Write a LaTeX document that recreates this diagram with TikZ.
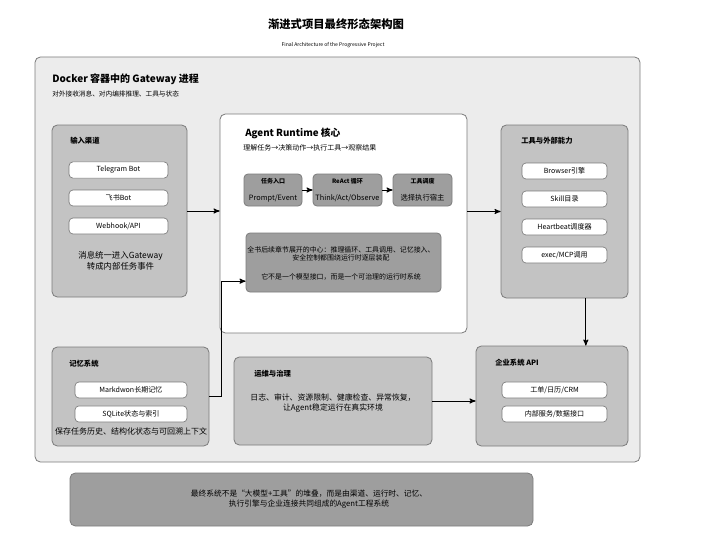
\documentclass[tikz,border=0pt]{standalone}
\usepackage{fontspec}
\setmainfont{Noto Sans CJK SC}
\usepackage{xcolor}
\usepackage{tikz}
\usetikzlibrary{arrows,positioning}
\definecolor{panelgray}{HTML}{ECECEC}
\definecolor{boxgray}{HTML}{C3C3C3}
\definecolor{deepgray}{HTML}{9E9E9E}
\definecolor{edgegray}{HTML}{7C7C7C}
\tikzstyle{line}=[draw, line width=0.7pt]
\tikzstyle{frame}=[draw=edgegray, fill=panelgray, rounded corners=4pt, line width=0.6pt]
\tikzstyle{group}=[draw=edgegray, fill=boxgray, rounded corners=4pt, line width=0.6pt]
\tikzstyle{dark}=[draw=edgegray, fill=deepgray, rounded corners=3pt, line width=0.6pt, align=center, inner sep=1pt]
\tikzstyle{pill}=[draw=edgegray, fill=white, rounded corners=3pt, minimum height=12pt, line width=0.5pt, font=\fontsize{5.3}{6}\selectfont]
\tikzstyle{heading}=[anchor=west, inner sep=0pt, font=\bfseries\fontsize{5.5}{6}\selectfont]
\tikzstyle{note}=[align=center, inner sep=0pt]

\begin{document}
\begin{tikzpicture}[x=0.75pt,y=-0.75pt,>=stealth']
\useasboundingbox (0,0) rectangle (702,542);
% title
\node (title) at (336,24) {\bfseries\fontsize{8.5}{10}\selectfont 渐进式项目最终形态架构图};
\node (subtitle) at (333,45) {\fontsize{3.8}{4.5}\selectfont Final Architecture of the Progressive Project};
% gateway container
\node[frame, minimum width=453.75pt, minimum height=303.75pt] (gateway) at (337.5,259.5) {};
\node[anchor=west, inner sep=0pt] (gwtitle) at (52,79) {\bfseries\fontsize{7.5}{9}\selectfont Docker 容器中的 Gateway 进程};
\node[anchor=west, inner sep=0pt] (gwsub) at (52,94) {\fontsize{5}{6}\selectfont 对外接收消息、对内编排推理、工具与状态};
% input channels
\node[group, minimum width=101.25pt, minimum height=129pt] (inbox) at (119.5,211) {};
\node[heading] (intitle) at (70,141) {输入渠道};
\node[pill, minimum width=74.25pt] (telegram) at (118.5,170) {Telegram Bot};
\node[pill, minimum width=74.25pt] (feishu) at (118.5,198) {飞书Bot};
\node[pill, minimum width=74.25pt] (webhook) at (118.5,226) {Webhook/API};
\node[note, font=\fontsize{6.3}{8}\selectfont] (intext) at (120.5,260.5) {消息统一进入Gateway\\转成内部任务事件};
% runtime core
\node[draw=edgegray, fill=white, rounded corners=4pt, line width=0.6pt, minimum width=185.25pt, minimum height=164.25pt] (runtime) at (343.5,223.5) {};
\node[anchor=west, inner sep=0pt] (rttitle) at (245,133) {\bfseries\fontsize{7.3}{9}\selectfont Agent Runtime 核心};
\node[anchor=west, inner sep=0pt] (rtsub) at (243,148) {\fontsize{5.25}{6}\selectfont 理解任务→决策动作→执行工具→观察结果};
\node[dark, minimum width=43.5pt, minimum height=24pt] (task) at (273,190) {{\bfseries\fontsize{4.5}{5}\selectfont 任务入口}\\[1pt]{\fontsize{5.5}{6}\selectfont Prompt/Event}};
\node[dark, minimum width=51.75pt, minimum height=24pt] (react) at (347.5,190) {{\bfseries\fontsize{4.5}{5}\selectfont ReAct 循环}\\[1pt]{\fontsize{5.5}{6}\selectfont Think/Act/Observe}};
\node[dark, minimum width=44.25pt, minimum height=24pt] (dispatch) at (422.5,190) {{\bfseries\fontsize{4.5}{5}\selectfont 工具调度}\\[1pt]{\fontsize{5.5}{6}\selectfont 选择执行宿主}};
\node[dark, minimum width=146.25pt, minimum height=44.25pt] (center) at (343.5,262.5) {};
\node[note, font=\fontsize{5.2}{6}\selectfont] (centertext) at (341,263.5) {全书后续章节展开的中心：推理循环、工具调用、记忆接入、\\安全控制都围绕运行时逐层装配\\[8pt]它不是一个模型接口，而是一个可治理的运行时系统};
% tools
\node[group, minimum width=95.25pt, minimum height=129.75pt] (tools) at (564.5,211.5) {};
\node[heading] (tooltitle) at (521,141) {工具与外部能力};
\node[pill, minimum width=63.75pt] (browser) at (564.5,171) {Browser引擎};
\node[pill, minimum width=63.75pt] (skill) at (564.5,199) {Skill目录};
\node[pill, minimum width=63.75pt] (heartbeat) at (564.5,227) {Heartbeat调度器};
\node[pill, minimum width=63.75pt] (mcp) at (564.5,255) {exec/MCP调用};
% memory
\node[group, minimum width=117.75pt, minimum height=74.25pt] (memory) at (130.5,396.5) {};
\node[heading] (memtitle) at (69,364) {记忆系统};
\node[pill, minimum width=84pt] (markdown) at (131,390) {Markdwon长期记忆};
\node[pill, minimum width=84pt] (sqlite) at (131,414) {SQLite状态与索引};
\node[note, font=\fontsize{6}{7}\selectfont] (memtext) at (131,431) {保存任务历史、结构化状态与可回溯上下文};
% operations
\node[group, minimum width=148.5pt, minimum height=66pt] (ops) at (333,401) {};
\node[heading] (opstitle) at (254,374) {运维与治理};
\node[note, font=\fontsize{5.9}{7}\selectfont] (opstext) at (333,403) {日志、审计、资源限制、健康检查、异常恢复，\\让Agent稳定运行在真实环境};
% enterprise
\node[group, minimum width=114pt, minimum height=75pt] (enterprise) at (552,396) {};
\node[heading] (enttitle) at (495,363) {企业系统 API};
\node[pill, minimum width=78.75pt] (crm) at (554.5,390) {工单/日历/CRM};
\node[pill, minimum width=78.75pt] (service) at (554.5,414) {内部服务/数据接口};
% summary
\node[dark, rounded corners=4pt, minimum width=347.25pt, minimum height=39.75pt] (summary) at (301.5,499.5) {};
\node[note, font=\fontsize{5.8}{7.5}\selectfont] (summarytext) at (309,499.5) {最终系统不是“大模型+工具”的堆叠，而是由渠道、运行时、记忆、\\执行引擎与企业连接共同组成的Agent工程系统};
% connectors
\draw[line,->] (inbox.east) -- (inbox.east -| runtime.west);
\draw[line,->] (task) -- (react);
\draw[line,->] (react) -- (dispatch);
\draw[line,->] (runtime.east |- tools.west) -- (tools.west);
\draw[line,->] ([xshift=16pt]tools.south) -- ([xshift=16pt]tools.south |- enterprise.north);
\draw[line,->] (memory.east) -- ++(12,0) |- ([yshift=-14pt]center.west);
\draw[line,->] (ops.east) -- (ops.east -| enterprise.west);
\end{tikzpicture}
\end{document}
